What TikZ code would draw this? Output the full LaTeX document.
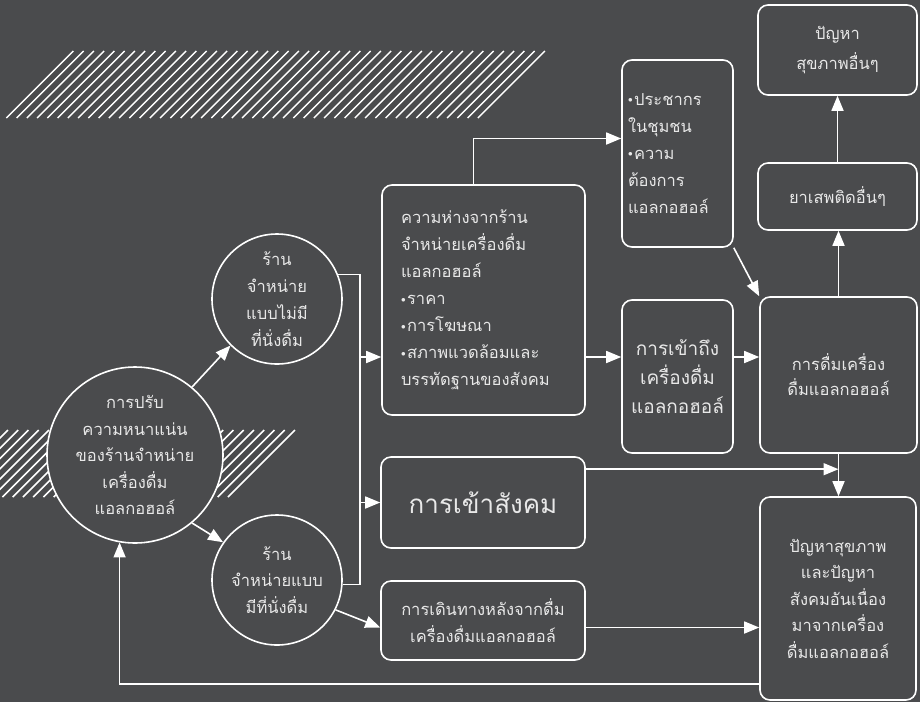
\documentclass[tikz,border=0pt]{standalone}
\usepackage{fontspec}
\newfontfamily\thaifont[Script=Thai]{Loma}
\usepackage{tikz}
\usetikzlibrary{arrows.meta}
\definecolor{bgcol}{HTML}{4A4B4D}
\definecolor{txtcol}{HTML}{E8E8E8}
\newcommand{\blt}{\raisebox{2.5pt}{\small$\bullet$}\kern1.5pt}

\begin{document}
\begin{tikzpicture}[x=1pt,y=-1pt,
    box/.style={draw=white, line width=1.6pt, rounded corners=10pt, fill=bgcol, text=txtcol,
      align=center, inner sep=0pt, font=\thaifont\fontsize{16.5}{27}\selectfont},
    circ/.style={shape=circle, draw=white, line width=1.6pt, fill=bgcol, text=txtcol,
      align=center, inner sep=0pt, font=\thaifont\fontsize{16.5}{26.5}\selectfont},
    arr/.style={draw=white, line width=1.6pt, -{Triangle[length=15pt,width=12pt]}},
    link/.style={draw=white, line width=1.6pt},
    hatch/.style={draw=white, line width=1.5pt}]
    \fill[bgcol] (0,0) rectangle (920,702);
    \useasboundingbox (0,0) rectangle (920,702);
    % hatched bands
    \begin{scope}
      \clip (0,0) rectangle (920,702);
      \foreach \i in {0,...,46}
        \draw[hatch] (6.4+10.25*\i,118) -- ++(67,-67);
      \foreach \i in {0,...,28}
        \draw[hatch] (228-10.25*\i,497) -- ++(67,-67);
    \end{scope}
    % circles
    \node[circ, minimum size=176pt] (main) at (135,455)
      {การปรับ\\ความหนาแน่น\\ของร้านจำหน่าย\\เครื่องดื่ม\\แอลกอฮอล์};
    \node[circ, minimum size=130pt, font=\thaifont\fontsize{16.5}{27}\selectfont] (shopA) at (277,299)
      {ร้าน\\จำหน่าย\\แบบไม่มี\\ที่นั่งดื่ม};
    \node[circ, minimum size=130pt] (shopB) at (277,580)
      {ร้าน\\จำหน่ายแบบ\\มีที่นั่งดื่ม};
    % boxes
    \node[box, minimum width=203pt, minimum height=230pt, text width=165pt, align=left] (dist) at (483.5,300)
      {ความห่างจากร้าน\\จำหน่ายเครื่องดื่ม\\แอลกอฮอล์\\\blt ราคา\\\blt การโฆษณา\\\blt สภาพแวดล้อมและ\\บรรทัดฐานของสังคม};
    \node[box, minimum width=111pt, minimum height=187pt, text width=99pt, align=left] (pop) at (677.5,153.5)
      {\blt ประชากร\\ในชุมชน\\\blt ความ\\ต้องการ\\แอลกอฮอล์};
    \node[box, minimum width=159pt, minimum height=90pt, font=\thaifont\fontsize{16.5}{30}\selectfont] (other) at (837.5,50)
      {ปัญหา\\สุขภาพอื่นๆ};
    \node[box, minimum width=159pt, minimum height=67pt] (drugs) at (837.5,196.5) {ยาเสพติดอื่นๆ};
    \node[box, minimum width=111pt, minimum height=153pt, font=\thaifont\fontsize{19}{29}\selectfont] (acc) at (677.5,376.5)
      {การเข้าถึง\\เครื่องดื่ม\\แอลกอฮอล์};
    \node[box, minimum width=157pt, minimum height=156pt, font=\thaifont\fontsize{16.5}{25}\selectfont] (drink) at (838.5,375)
      {การดื่มเครื่อง\\ดื่มแอลกอฮอล์};
    \node[box, minimum width=204pt, minimum height=91pt, font=\thaifont\fontsize{26}{30}\selectfont] (social) at (483,502.5)
      {การเข้าสังคม};
    \node[box, minimum width=204pt, minimum height=79pt] (travel) at (483,620.5)
      {การเดินทางหลังจากดื่ม\\เครื่องดื่มแอลกอฮอล์};
    \node[box, minimum width=156pt, minimum height=203pt, font=\thaifont\fontsize{16.5}{26.5}\selectfont] (prob) at (838,598.5)
      {ปัญหาสุขภาพ\\และปัญหา\\สังคมอันเนื่อง\\มาจากเครื่อง\\ดื่มแอลกอฮอล์};
    % connectors
    \coordinate (bus) at (360,0);
    \coordinate (r1) at (0,357);
    \draw[arr] (main.50) -- (shopA.225);
    \draw[arr] (main.-50) -- (shopB.145);
    \draw[link] (shopA.22) -| (bus |- shopB.-4) -- (shopB.-4);
    \draw[arr] (bus |- r1) -- (dist.west |- r1);
    \draw[arr] (bus |- social.west) -- (social.west);
    \draw[arr] (shopB.-27) -- ([yshift=-7pt]travel.west);
    \draw[arr] ([xshift=-10pt]dist.north) |- ([yshift=15pt]pop.west);
    \draw[arr] (dist.east |- r1) -- (acc.west |- r1);
    \draw[arr] (acc.east |- r1) -- (drink.west |- r1);
    \draw[arr] (pop.south east) -- (drink.north west);
    \draw[arr] (drink.north) -- (drink.north |- drugs.south);
    \draw[arr] (drugs.north) -- (drugs.north |- other.south);
    \draw[arr] (drink.south) -- (drink.south |- prob.north);
    \draw[arr] ([yshift=-13pt]social.north east) -- ([yshift=-13pt]social.north east -| drink.south);
    \draw[arr] ([yshift=-7pt]travel.east) -- ([yshift=-7pt]travel.east -| prob.west);
    \draw[arr] ([yshift=17pt]prob.south west) -| (main.260);
\end{tikzpicture}
\end{document}
